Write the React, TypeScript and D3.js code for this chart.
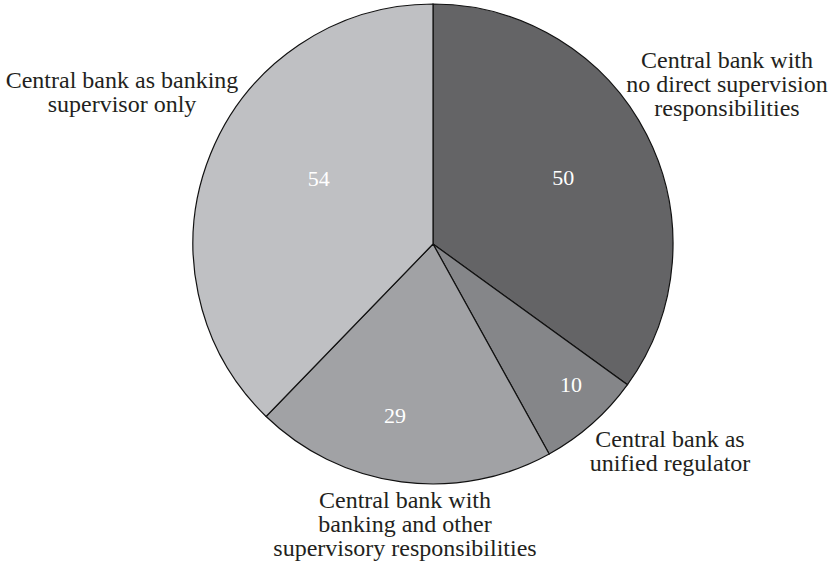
import React from "react";
import * as d3 from "d3";

const categories = [
  "Central bank with no direct supervision responsibilities",
  "Central bank as unified regulator",
  "Central bank with banking and other supervisory responsibilities",
  "Central bank as banking supervisor only",
];
const values = [50, 10, 29, 54];
const colors = ["#646466", "#858689", "#a1a2a5", "#bfc0c3"];
const labelLines = [
  ["Central bank with", "no direct supervision", "responsibilities"],
  ["Central bank as", "unified regulator"],
  ["Central bank with", "banking and other", "supervisory responsibilities"],
  ["Central bank as banking", "supervisor only"],
];
// label placement relative to pie centre: [dx, dy of first baseline]
const labelAnchors = [
  [294, -176],
  [237, 203],
  [-28, 264],
  [-311, -156],
];
// value label radius fraction and angle nudge (degrees)
const valueRadius = [0.61, 0.82, 0.73, 0.55];
const valueAngleNudge = [0, -3, 5, 8];

const W = 833;
const H = 564;
const cx = 433;
const cy = 244;
const R = 240;

export default function App() {
  const pie = d3
    .pie<number>()
    .sort(null)
    .value((d) => d)
    .startAngle(0)
    .endAngle(2 * Math.PI);
  const arcs = pie(values);
  const arc = d3.arc<d3.PieArcDatum<number>>().innerRadius(0).outerRadius(R);
  const font = "Liberation Serif";
  return (
    <svg
      width={W}
      height={H}
      style={{ position: "absolute", left: 0, top: 0, background: "#fff" }}
    >
      <g transform={`translate(${cx},${cy})`}>
        {arcs.map((a, i) => (
          <path
            key={categories[i]}
            d={arc(a) || ""}
            fill={colors[i]}
            stroke="#111"
            strokeWidth={1.2}
          />
        ))}
        {arcs.map((a, i) => {
          const ang =
            (a.startAngle + a.endAngle) / 2 + (valueAngleNudge[i] * Math.PI) / 180;
          const r = valueRadius[i] * R;
          const x = r * Math.sin(ang);
          const y = -r * Math.cos(ang);
          return (
            <text
              key={"v" + i}
              x={x}
              y={y}
              dy="0.35em"
              textAnchor="middle"
              fill="#fff"
              style={{ fontFamily: font, fontSize: 22 }}
            >
              {values[i]}
            </text>
          );
        })}
        {labelLines.map((lines, i) => (
          <text
            key={"l" + i}
            textAnchor="middle"
            fill="#231f20"
            style={{ fontFamily: font, fontSize: 24 }}
          >
            {lines.map((ln, j) => (
              <tspan
                key={j}
                x={labelAnchors[i][0]}
                y={labelAnchors[i][1] + j * 24}
              >
                {ln}
              </tspan>
            ))}
          </text>
        ))}
      </g>
    </svg>
  );
}
